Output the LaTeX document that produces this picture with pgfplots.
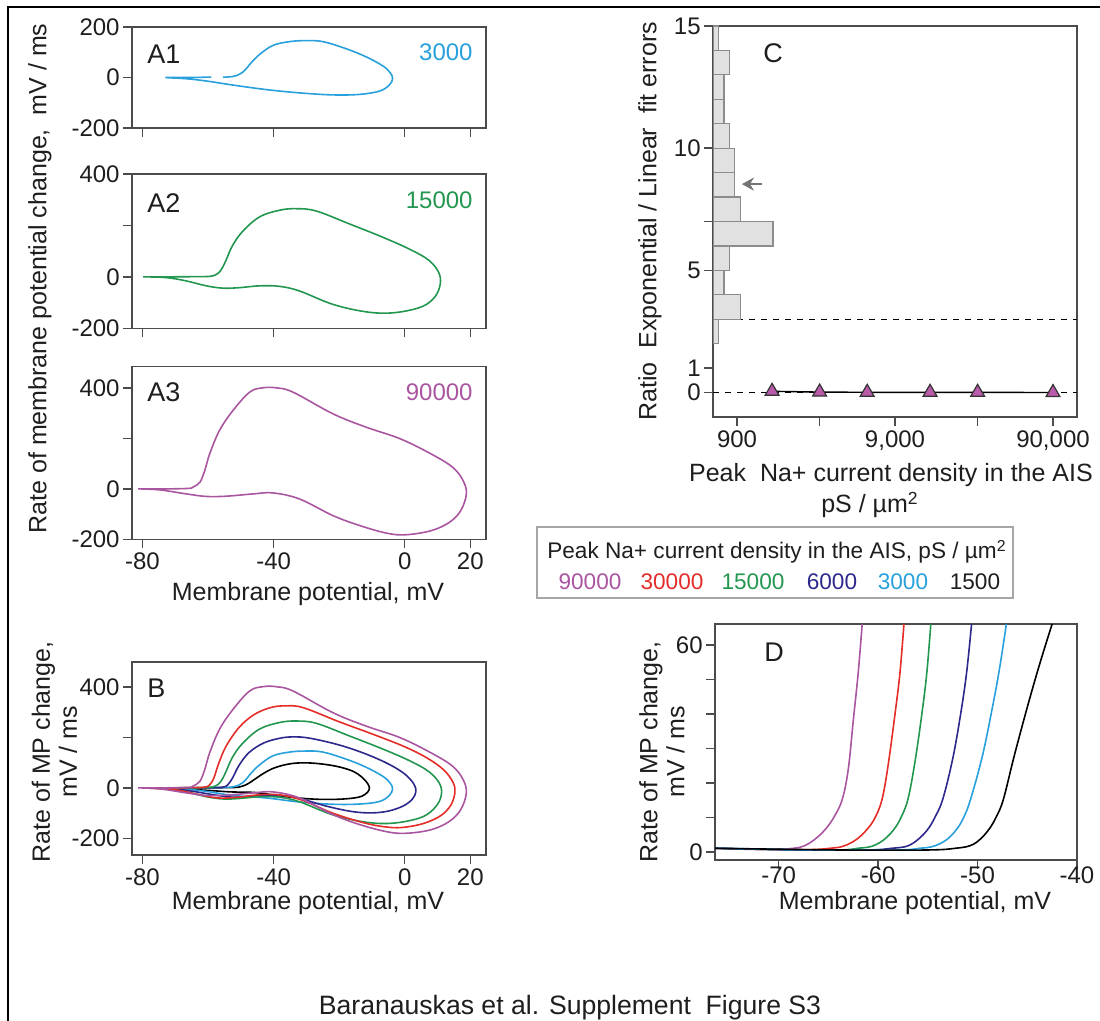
\documentclass[border=0pt]{standalone}
\usepackage{pgfplots}
\pgfplotsset{compat=1.18}
\usepackage{fontspec}
\setmainfont{Liberation Sans}
\usetikzlibrary{arrows.meta}
\definecolor{cPur}{RGB}{170,85,160}
\definecolor{cRed}{RGB}{228,45,40}
\definecolor{cGrn}{RGB}{35,150,80}
\definecolor{cNav}{RGB}{45,40,140}
\definecolor{cBlu}{RGB}{40,160,220}
\definecolor{cTri}{RGB}{185,90,170}
\definecolor{axg}{RGB}{75,75,75}
\definecolor{txt}{RGB}{30,30,30}
\definecolor{histfill}{RGB}{225,225,225}
\definecolor{histedge}{RGB}{140,140,140}
\newcommand{\lab}{\fontsize{12.5}{13.5}\selectfont}
\newcommand{\leg}{\fontsize{11.3}{12}\selectfont}
\newcommand{\pan}{\fontsize{13.5}{14}\selectfont}
\pgfplotsset{
  panel/.style={
    scale only axis, anchor=south west,
    axis line style={draw=axg, line width=0.75pt},
    tick style={draw=axg, line width=0.7pt},
    tick align=outside, tick pos=left,
    major tick length=4.5pt,
    /pgf/number format/assume math mode=true,
    ticklabel style={font=\fontsize{12}{12}\selectfont, text=txt},
    yticklabel style={inner sep=1.5pt},
    xticklabel style={inner sep=2pt},
  },
  Aaxis/.style={panel, width=177pt, xmin=-83.2, xmax=24.8, xtick={-80,-40,0,20}},
  trace/.style={line width=0.8pt, smooth, tension=0.6},
}
\begin{document}
\begin{tikzpicture}
\path[use as bounding box] (0,0) rectangle (550pt,510.5pt);
\draw[line width=1.1pt, black] (4pt,0) -- (4pt,507pt) -- (550pt,507pt);

% ---------- A1 ----------
\begin{axis}[Aaxis, at={(66pt,446.5pt)}, height=50.5pt, ymin=-200, ymax=200,
  ytick={-200,0,200}, xticklabels={}]
\addplot[trace, cBlu] coordinates {(-55.4,1) (-52.4,4) (-50.5,12) (-49.3,22) (-48,40) (-46.8,59) (-44.3,91) (-40.2,127) (-35.1,142) (-30.1,146) (-25.0,142) (-17.9,114) (-11.8,82) (-6.7,46) (-4.5,20) (-3.7,-4) (-4.7,-30) (-7.7,-54) (-13.8,-67) (-21.9,-69) (-32.1,-61) (-42.2,-48) (-52.4,-30) (-60.5,-14) (-66.6,-5) (-72.2,-1) (-72.6,0) (-68,0) (-63,0.5) (-59,1.5)};
\end{axis}

% ---------- A2 ----------
\begin{axis}[Aaxis, at={(66pt,346.35pt)}, height=77.15pt, ymin=-200, ymax=400,
  ytick={-200,0,200,400}, yticklabels={-200,0,,400}, xticklabels={}]
\addplot[trace, cGrn] coordinates {(-79.8,0) (-72.7,0) (-67.6,0.5) (-61,1) (-58.5,4) (-56.8,15) (-55.6,36) (-54.4,68) (-52.6,120) (-49.5,176) (-44.3,233) (-38.2,259) (-33.1,265) (-27.0,256) (-16.9,206) (-6.7,154) (1.4,108) (7.5,63) (10.6,10) (10.6,-42) (8.5,-88) (4.4,-120) (-3.7,-140) (-11.8,-136) (-21.9,-107) (-32.1,-55) (-38.2,-37) (-44.3,-35) (-50.4,-42) (-55.4,-44) (-60.5,-35) (-66.6,-16) (-72.7,-3) (-79.8,0)};
\end{axis}

% ---------- A3 ----------
\begin{axis}[Aaxis, at={(66pt,240.85pt)}, height=86.3pt, ymin=-200, ymax=485,
  ytick={-200,0,200,400}, yticklabels={-200,0,,400}]
\addplot[trace, cPur] coordinates {(-81.3,0) (-72.7,0) (-66,2) (-64.6,7) (-62.5,26) (-61.0,73) (-59.5,139) (-56.5,232) (-52.4,311) (-47.3,384) (-43.3,401) (-39.2,401) (-34.1,384) (-21.9,298) (-11.8,245) (-1.4,199) (8.0,139) (14.6,86) (17.8,33) (18.8,-20) (17.1,-86) (13.6,-133) (8.0,-166) (0.4,-182) (-5.4,-176) (-13.6,-146) (-21.9,-106) (-32.1,-40) (-40.2,-16) (-46.3,-20) (-54.4,-29) (-60.5,-30) (-66.6,-20) (-74.7,-4) (-81.3,0)};
\end{axis}

% ---------- B ----------
\begin{axis}[Aaxis, at={(66pt,83pt)}, height=96.5pt, ymin=-266, ymax=499,
  ytick={-200,0,200,400}, yticklabels={-200,0,,400}]
\addplot[trace, black] coordinates {(-80,0) (-70,0) (-58,0.5) (-52,1.5) (-50,5) (-48,15) (-46,32) (-43,58) (-40,78) (-36,93) (-32,99) (-27,97) (-21,86) (-16,67) (-13,42) (-11.2,15) (-10.8,-5) (-12,-25) (-14.5,-38) (-20,-45) (-27,-45) (-34,-38) (-40,-28) (-46,-18) (-53,-16) (-60,-10) (-70,-3) (-80,0)};
\addplot[trace, cBlu] coordinates {(-80,0) (-72.6,0) (-68,0) (-63,0.5) (-59,1.5) (-55.4,1) (-52.4,4) (-50.5,12) (-49.3,22) (-48,40) (-46.8,59) (-44.3,91) (-40.2,127) (-35.1,142) (-30.1,146) (-25.0,142) (-17.9,114) (-11.8,82) (-6.7,46) (-4.5,20) (-3.7,-4) (-4.7,-30) (-7.7,-54) (-13.8,-64) (-21.9,-65) (-32.1,-56) (-42.2,-40) (-52.4,-30) (-60.5,-14) (-66.6,-5) (-72.2,-1) (-80,0)};
\addplot[trace, cNav] coordinates {(-80,0) (-70,0) (-60,0.5) (-55.5,3) (-54,12) (-52.5,40) (-50.5,90) (-47.5,140) (-43,178) (-38,197) (-34,202) (-29,197) (-20,170) (-12,135) (-5,95) (0,55) (2.8,15) (3.4,-15) (2.3,-45) (-0.5,-72) (-5,-92) (-10,-99) (-16,-94) (-24,-72) (-32,-42) (-38,-30) (-45,-31) (-52,-37) (-58,-28) (-65,-13) (-72,-3) (-80,0)};
\addplot[trace, cGrn] coordinates {(-79.8,0) (-72.7,0) (-67.6,0.5) (-61,1) (-58.5,4) (-56.8,15) (-55.6,36) (-54.4,68) (-52.6,120) (-49.5,176) (-44.3,233) (-38.2,259) (-33.1,265) (-27.0,256) (-16.9,206) (-6.7,154) (1.4,108) (7.5,63) (10.9,10) (10.9,-42) (8.5,-88) (4.4,-120) (-3.7,-140) (-11.8,-136) (-21.9,-107) (-32.1,-55) (-38.2,-37) (-44.3,-35) (-50.4,-42) (-55.4,-44) (-60.5,-35) (-66.6,-16) (-72.7,-3) (-79.8,0)};
\addplot[trace, cRed] coordinates {(-80,0) (-72,0) (-65,1) (-61,3) (-59.5,12) (-58.2,40) (-56.8,95) (-54.5,165) (-50.5,240) (-46,290) (-41,318) (-36.5,325) (-31,318) (-20,262) (-10,214) (0,163) (7,117) (12,70) (14.8,20) (15.3,-20) (14,-70) (11,-110) (6,-140) (0,-156) (-5,-156) (-12,-140) (-22,-100) (-31,-50) (-38,-28) (-44,-27) (-51,-37) (-57,-40) (-63,-26) (-70,-8) (-80,0)};
\addplot[trace, cPur] coordinates {(-81.3,0) (-72.7,0) (-66,2) (-64.6,7) (-62.5,26) (-61.0,73) (-59.5,139) (-56.5,232) (-52.4,311) (-47.3,384) (-43.3,401) (-39.2,401) (-34.1,384) (-21.9,298) (-11.8,245) (-1.4,199) (8.0,139) (14.6,86) (17.8,33) (18.8,-20) (17.1,-86) (13.6,-133) (8.0,-166) (0.4,-180) (-5.4,-174) (-13.6,-146) (-21.9,-106) (-32.1,-40) (-40.2,-16) (-46.3,-20) (-54.4,-29) (-60.5,-30) (-66.6,-20) (-74.7,-4) (-81.3,0)};
\end{axis}

% ---------- C ----------
\begin{axis}[panel, at={(356.5pt,302pt)}, width=182pt, height=195.5pt,
  xmode=log, xmin=634, xmax=127700, ymin=-1, ymax=15,
  xtick={900,3000,9000,30000,90000}, xticklabels={900,,{9,000},,{90,000}},
  ytick={0,1,5,7,10,15}, yticklabels={0,1,5,,10,15},
  minor xtick={}, log basis x=10]
\addplot[black, dashed, line width=0.7pt] coordinates {(634,3) (127700,3)};
\addplot[black, dashed, line width=0.7pt] coordinates {(634,0) (127700,0)};
\addplot[black, line width=0.7pt, mark=triangle*, mark size=4pt,
  mark options={fill=cTri, draw=black!80, solid, line width=0.6pt}]
  coordinates {(1500,0.05) (3000,0.02) (6000,0.01) (15000,0.01) (30000,0.01) (90000,0)};
\end{axis}
\begin{axis}[scale only axis, anchor=south west, at={(356.5pt,302pt)}, width=182pt, height=195.5pt,
  hide axis, xmin=0, xmax=66.8, ymin=-1, ymax=15]
\addplot[xbar interval, fill=histfill, draw=histedge, line width=0.6pt]
  coordinates {(1,2) (5,3) (2,4) (3,5) (11,6) (5,7) (4,8) (4,9) (3,10) (2,11) (2,12) (3,13) (1,14) (1,15)};
\draw[-{Stealth[length=6pt,width=6.5pt]}, draw=gray!90!black, line width=1.4pt] (axis cs:9.0,8.53) -- (axis cs:5.3,8.53);
\end{axis}

% ---------- D ----------
\begin{axis}[panel, at={(357.5pt,80.5pt)}, width=181pt, height=118pt,
  xmin=-76.4, xmax=-40, ymin=-2.3, ymax=66.1,
  xtick={-70,-60,-50,-40}, ytick={0,10,20,30,40,50,60}, yticklabels={0,,,,,,60},
  xticklabel style={inner sep=0.5pt, yshift=2pt}]
\addplot[trace, cPur] coordinates {(-76.4,1.1) (-73,0.8) (-70,0.8) (-68.5,1.1) (-67.5,1.7) (-66.4,3.6) (-65.3,6.6) (-64.4,10.3) (-63.6,15.3) (-63.0,24) (-62.5,38) (-62.0,52) (-61.6,66.1)};
\addplot[trace, cRed] coordinates {(-76.4,1.1) (-72,0.8) (-67,0.7) (-64.8,1.1) (-63.5,1.7) (-62.2,3.6) (-61.1,6.6) (-60.3,10) (-59.6,15.3) (-59.0,25) (-58.3,40) (-57.8,52) (-57.4,66.1)};
\addplot[trace, cGrn] coordinates {(-76.4,1.1) (-70,0.7) (-64,0.6) (-62,1.1) (-60.6,1.7) (-59.4,3.6) (-58.4,6.6) (-57.7,10) (-57.0,15.3) (-56.3,26) (-55.6,40) (-55.1,52) (-54.7,66.1)};
\addplot[trace, cNav] coordinates {(-76.4,1.1) (-68,0.6) (-61,0.6) (-58.6,1.1) (-57.1,1.7) (-56,3.6) (-55.0,6.6) (-54.3,10) (-53.5,15.3) (-52.5,27) (-51.7,40) (-51.1,52) (-50.6,66.1)};
\addplot[trace, cBlu] coordinates {(-76.4,1.1) (-66,0.6) (-58,0.6) (-55.8,1.1) (-54.4,1.7) (-53.1,3.6) (-52.1,6.6) (-51.4,10) (-50.7,15.3) (-49.5,28) (-48.5,42) (-47.8,53) (-47.1,66.1)};
\addplot[trace, black] coordinates {(-76.4,1.1) (-64,0.6) (-55,0.6) (-52.2,1.1) (-50.7,1.9) (-49.7,3.8) (-48.8,6.8) (-48.1,10.3) (-47.4,15.3) (-46.3,28) (-44.9,43) (-43.7,55) (-42.5,66.1)};
\end{axis}

% ---------- texts ----------
\node[anchor=west, text=txt, font=\pan, inner sep=0] at (73.5pt,483.5pt) {A1};
\node[anchor=east, text=cBlu, font=\fontsize{12}{12}\selectfont, inner sep=0] at (236.5pt,484.5pt) {3000};
\node[anchor=west, text=txt, font=\pan, inner sep=0] at (73.5pt,409pt) {A2};
\node[anchor=east, text=cGrn, font=\fontsize{12}{12}\selectfont, inner sep=0] at (236.5pt,410.5pt) {15000};
\node[anchor=west, text=txt, font=\pan, inner sep=0] at (73.5pt,314.5pt) {A3};
\node[anchor=east, text=cPur, font=\fontsize{12}{12}\selectfont, inner sep=0] at (236.5pt,314.5pt) {90000};
\node[anchor=west, text=txt, font=\pan, inner sep=0] at (73.5pt,166.5pt) {B};
\node[text=txt, font=\pan, inner sep=0] at (386.5pt,484pt) {C};
\node[text=txt, font=\pan, inner sep=0] at (387pt,184.5pt) {D};

\node[rotate=90, text=txt, font=\lab, inner sep=0] at (20pt,371.25pt) {Rate of membrane potential change,\ \ mV / ms};
\node[anchor=base, text=txt, font=\lab, inner sep=0] at (154pt,210pt) {Membrane potential, mV};
\node[rotate=90, align=center, text=txt, font=\lab, inner sep=0] at (27.25pt,134.5pt) {Rate of MP change,\\mV / ms};
\node[anchor=base, text=txt, font=\lab, inner sep=0] at (154pt,55.5pt) {Membrane potential, mV};

\node[rotate=90, text=txt, font=\lab, inner sep=0] at (325pt,399.75pt) {Ratio\ \ Exponential / Linear\ \ fit errors};
\node[anchor=base, text=txt, font=\lab, inner sep=0] at (445.5pt,269.5pt) {Peak\ \ Na+ current density in the AIS};
\node[anchor=base, text=txt, font=\lab, inner sep=0] at (435pt,254pt) {pS / µm\textsuperscript{2}};

\draw[draw=gray!70, line width=0.6pt] (268.5pt,211.5pt) rectangle (506.5pt,247pt);
\node[anchor=base, text=txt, font=\leg, inner sep=0] at (388.5pt,231pt) {Peak Na+ current density in the AIS, pS / µm\textsuperscript{2}};
\node[anchor=base, text=cPur, font=\leg, inner sep=0] at (295pt,215.5pt) {90000};
\node[anchor=base, text=cRed, font=\leg, inner sep=0] at (336pt,215.5pt) {30000};
\node[anchor=base, text=cGrn, font=\leg, inner sep=0] at (376.5pt,215.5pt) {15000};
\node[anchor=base, text=cNav, font=\leg, inner sep=0] at (416pt,215.5pt) {6000};
\node[anchor=base, text=cBlu, font=\leg, inner sep=0] at (451.5pt,215.5pt) {3000};
\node[anchor=base, text=txt, font=\leg, inner sep=0] at (487.5pt,215.5pt) {1500};

\node[rotate=90, align=center, text=txt, font=\lab, inner sep=0] at (331pt,134.5pt) {Rate of MP change,\\mV / ms};
\node[anchor=base, text=txt, font=\lab, inner sep=0] at (457.5pt,55.5pt) {Membrane potential, mV};

\node[anchor=base, text=txt, font=\fontsize{13.3}{14}\selectfont, inner sep=0] at (285pt,3pt) {Baranauskas et al. Supplement\ \ Figure S3};
\end{tikzpicture}
\end{document}
